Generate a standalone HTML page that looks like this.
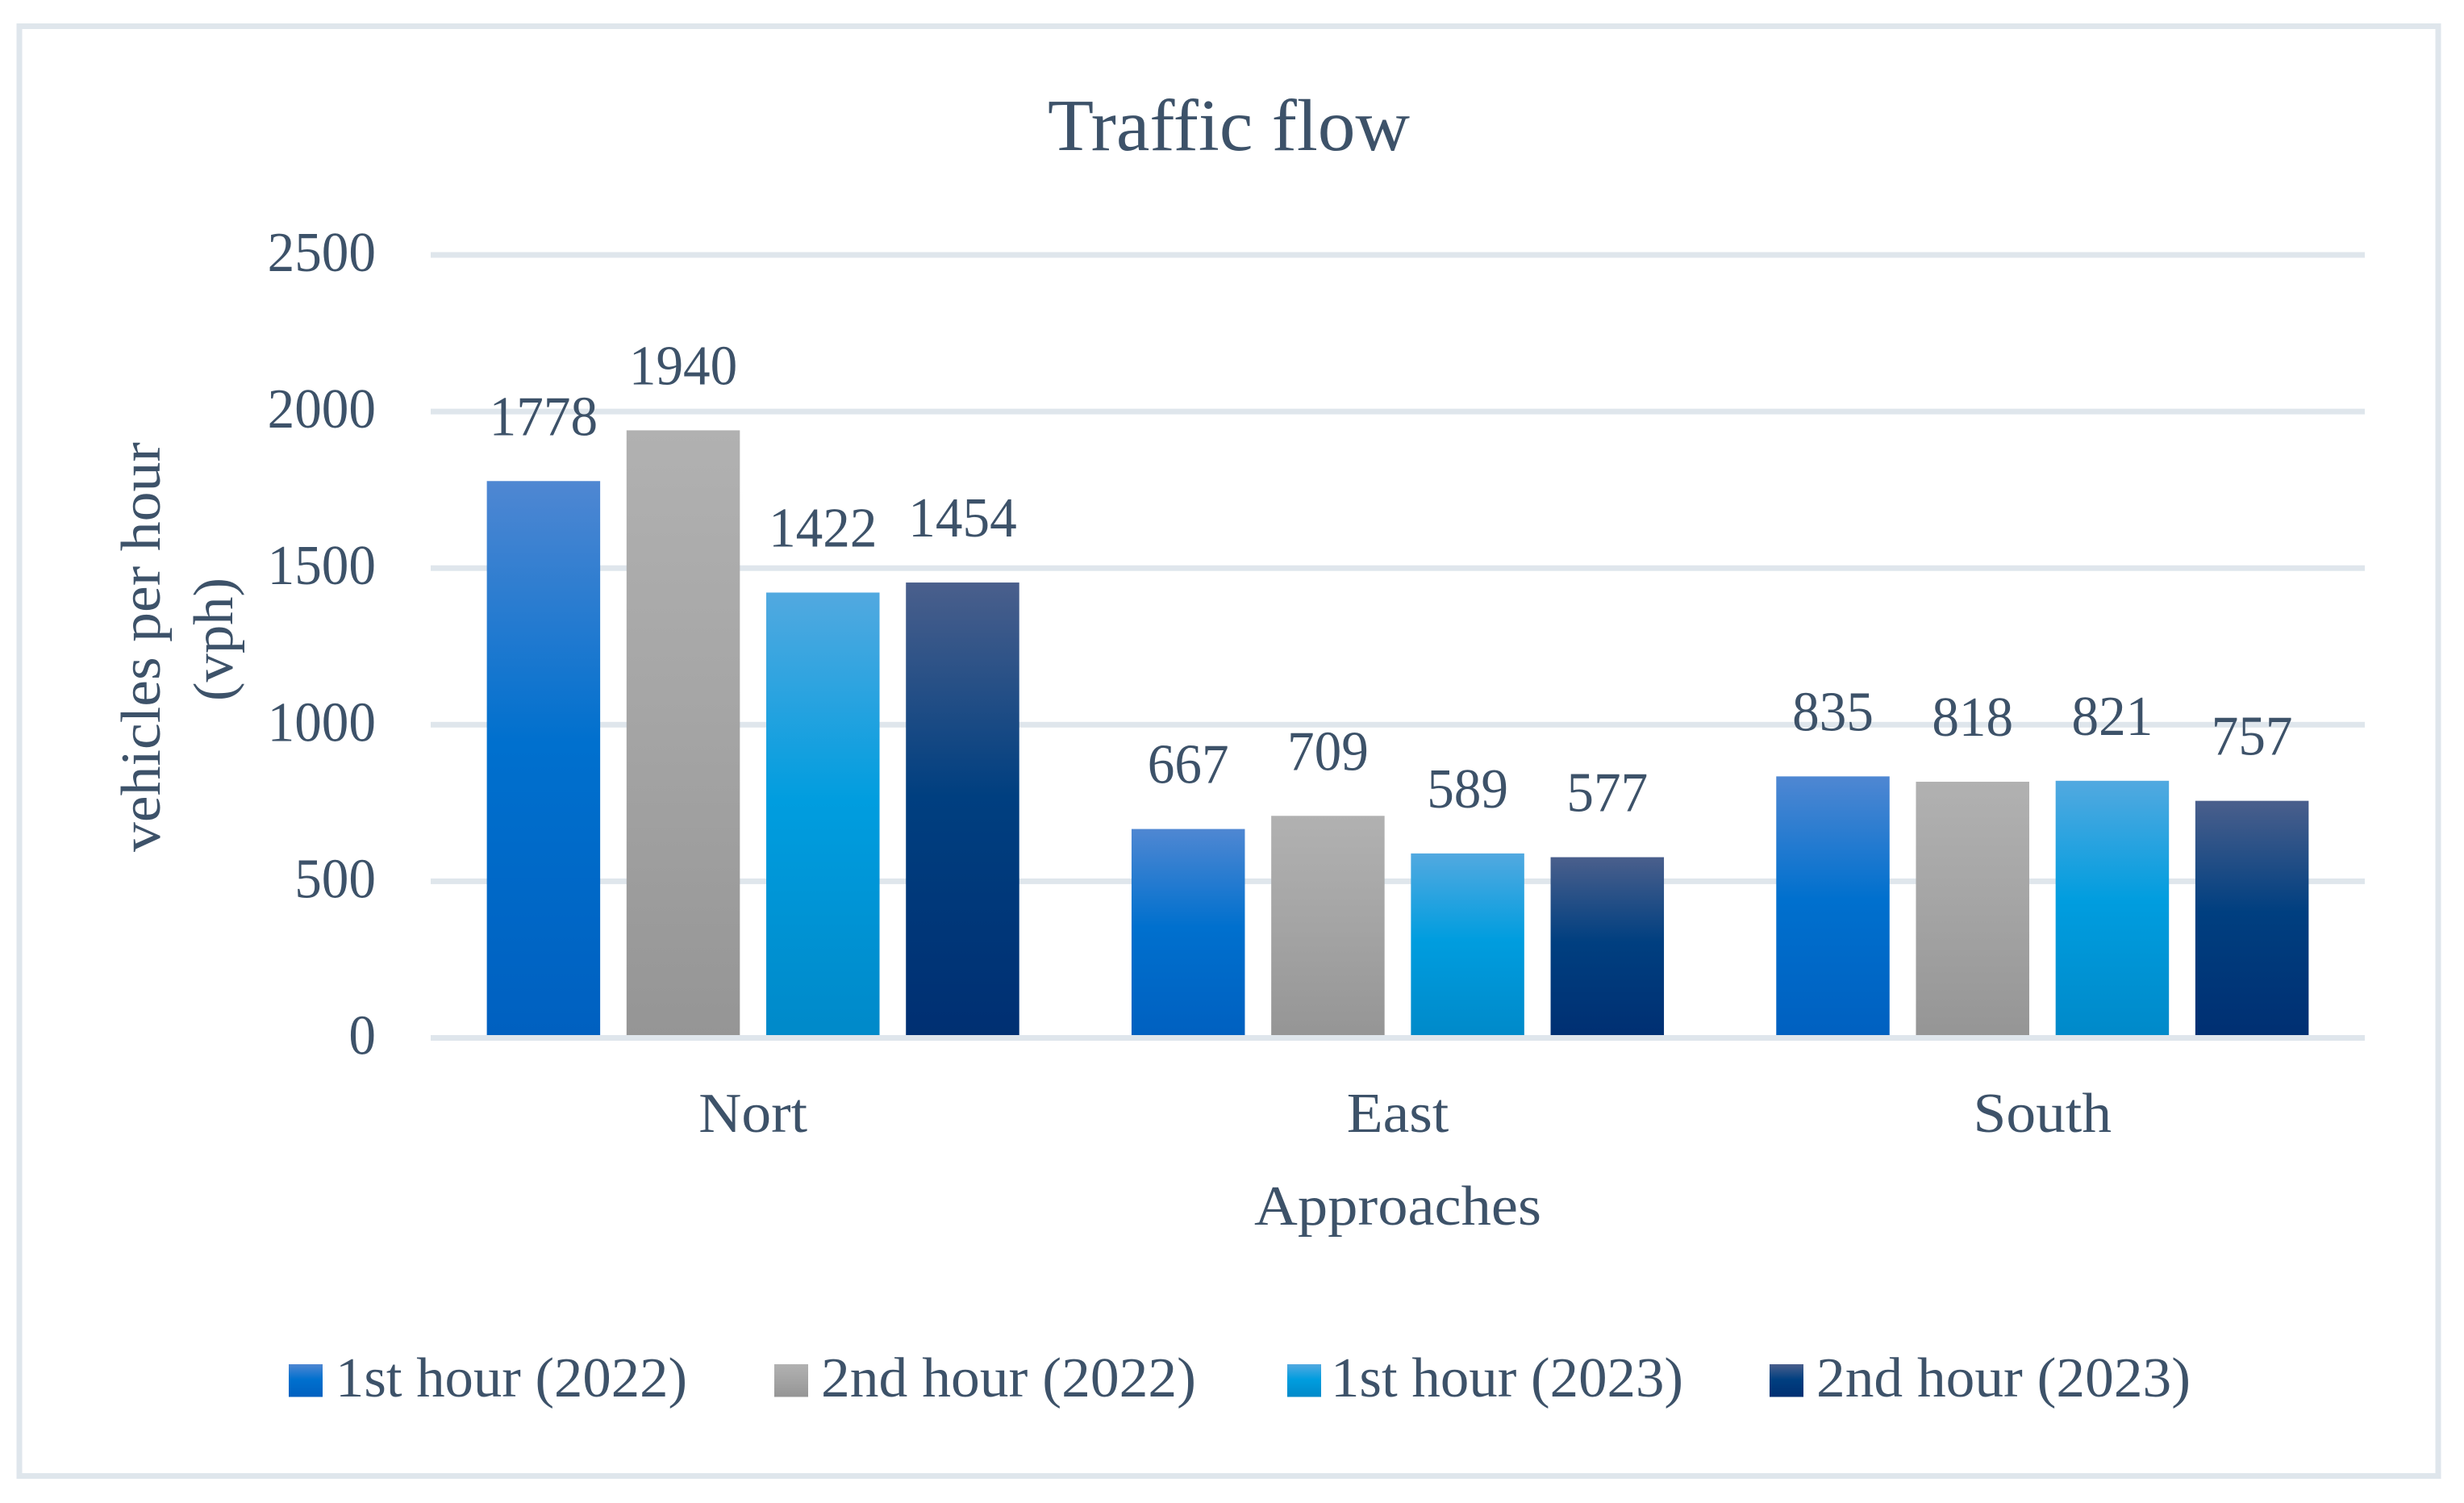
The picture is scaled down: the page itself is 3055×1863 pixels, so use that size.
<!DOCTYPE html>
<html lang="en">
<head>
<meta charset="utf-8">
<title>Traffic flow</title>
<style>
html,body{margin:0;padding:0;background:#fff;}
svg{display:block;}
text{font-family:"Liberation Serif",serif;fill:#3d5269;}
</style>
</head>
<body>
<svg id="chart" xmlns="http://www.w3.org/2000/svg" width="3055" height="1863" viewBox="0 0 3055 1863">
  <defs>
    <linearGradient id="grad-0" x1="0" y1="0" x2="0" y2="1">
      <stop offset="0" stop-color="#4f87d2"/><stop offset="0.47" stop-color="#0070ce"/><stop offset="1" stop-color="#0060c0"/>
    </linearGradient>
    <linearGradient id="grad-1" x1="0" y1="0" x2="0" y2="1">
      <stop offset="0" stop-color="#b1b1b1"/><stop offset="0.47" stop-color="#a5a5a5"/><stop offset="1" stop-color="#959595"/>
    </linearGradient>
    <linearGradient id="grad-2" x1="0" y1="0" x2="0" y2="1">
      <stop offset="0" stop-color="#52a9e0"/><stop offset="0.47" stop-color="#009ddf"/><stop offset="1" stop-color="#0089c9"/>
    </linearGradient>
    <linearGradient id="grad-3" x1="0" y1="0" x2="0" y2="1">
      <stop offset="0" stop-color="#4a5f8c"/><stop offset="0.47" stop-color="#003f80"/><stop offset="1" stop-color="#002f72"/>
    </linearGradient>
  </defs>

  <rect x="0" y="0" width="3055" height="1863" fill="#ffffff"/>
  <rect x="24" y="32.5" width="2999" height="1797" fill="none" stroke="#dfe6ec" stroke-width="7"/>

  <text x="1299" y="186" font-size="91" textLength="449" lengthAdjust="spacingAndGlyphs">Traffic flow</text>

  <g id="grid"></g>
  <g id="y-ticks"></g>
  <g id="bars"></g>
  <g id="values"></g>
  <g id="x-cats"></g>

  <text transform="translate(198,1056) rotate(-90)" font-size="70" textLength="508" lengthAdjust="spacingAndGlyphs">vehicles per hour</text>
  <text transform="translate(288,869) rotate(-90)" font-size="70" textLength="153" lengthAdjust="spacingAndGlyphs">(vph)</text>
  <text x="1555" y="1518" font-size="70" textLength="356" lengthAdjust="spacingAndGlyphs">Approaches</text>

  <g>
    <g>
      <rect x="358" y="1691" width="42" height="40.5" fill="url(#grad-0)"/>
      <text x="416" y="1731" font-size="70" textLength="436" lengthAdjust="spacingAndGlyphs">1st hour (2022)</text>
    </g>
    <g>
      <rect x="960" y="1691" width="42" height="40.5" fill="url(#grad-1)"/>
      <text x="1018" y="1731" font-size="70" textLength="465" lengthAdjust="spacingAndGlyphs">2nd hour (2022)</text>
    </g>
    <g>
      <rect x="1596" y="1691" width="42" height="40.5" fill="url(#grad-2)"/>
      <text x="1650" y="1731" font-size="70" textLength="437" lengthAdjust="spacingAndGlyphs">1st hour (2023)</text>
    </g>
    <g>
      <rect x="2194" y="1691" width="42" height="40.5" fill="url(#grad-3)"/>
      <text x="2252" y="1731" font-size="70" textLength="464" lengthAdjust="spacingAndGlyphs">2nd hour (2023)</text>
    </g>
  </g>
</svg>

<script>
const categories = ["Nort", "East", "South"];
const firstHour2022 = [1778, 667, 835];
const secondHour2022 = [1940, 709, 818];
const firstHour2023 = [1422, 589, 821];
const secondHour2023 = [1454, 577, 757];
const yTickValues = [0, 500, 1000, 1500, 2000, 2500];
const seriesList = [firstHour2022, secondHour2022, firstHour2023, secondHour2023];
const seriesKeys = ["1st-hour-2022", "2nd-hour-2022", "1st-hour-2023", "2nd-hour-2023"];

const NS = "http://www.w3.org/2000/svg";
const plotLeft = 534, plotRight = 2932, yZero = 1286.5, yTop = 316, yMax = 2500;
const barWidth = 140.5, barStep = 173.2;
const digitWidth = 33.6, catStretch = 1.05, labelSize = 70;

function yScale(v) { return yZero - (v / yMax) * (yZero - yTop); }
function groupCenter(i) { return plotLeft + (i + 0.5) * (plotRight - plotLeft) / categories.length; }
function barLeft(i, s) { return groupCenter(i) - (seriesList.length * barStep - (barStep - barWidth)) / 2 + s * barStep; }
function make(tag, parent) { const el = document.createElementNS(NS, tag); parent.appendChild(el); return el; }

const gridG = document.getElementById("grid");
const tickG = document.getElementById("y-ticks");
const barG = document.getElementById("bars");
const valG = document.getElementById("values");
const catG = document.getElementById("x-cats");

function drawGridLine(parent, v) {
  const r = make("rect", parent);
  r.setAttribute("x", plotLeft);
  r.setAttribute("y", yScale(v) - 3.5);
  r.setAttribute("width", plotRight - plotLeft);
  r.setAttribute("height", 7);
  r.setAttribute("fill", "#dfe6ec");
  return r;
}

yTickValues.forEach(function (v) {
  if (v !== 0) {
    const line = drawGridLine(gridG, v);
    
    
  }
  const t = make("text", tickG);
  
  
  t.setAttribute("x", 466);
  t.setAttribute("y", yScale(v) + 20);
  t.setAttribute("font-size", labelSize);
  t.setAttribute("text-anchor", "end");
  t.setAttribute("textLength", String(v).length * digitWidth);
  t.setAttribute("lengthAdjust", "spacingAndGlyphs");
  t.textContent = v;
});

seriesList.forEach(function (vals, s) {
  vals.forEach(function (v, i) {
    const r = make("rect", barG);
    
    
    r.setAttribute("data-series", seriesKeys[s]);
    r.setAttribute("data-category", categories[i]);
    r.setAttribute("x", barLeft(i, s));
    r.setAttribute("y", yScale(v));
    r.setAttribute("width", barWidth);
    r.setAttribute("height", yZero - yScale(v));
    r.setAttribute("fill", "url(#grad-" + s + ")");

    const t = make("text", valG);
    
    
    t.setAttribute("x", barLeft(i, s) + barWidth / 2);
    t.setAttribute("y", yScale(v) - 57);
    t.setAttribute("font-size", labelSize);
    t.setAttribute("text-anchor", "middle");
    t.setAttribute("textLength", String(v).length * digitWidth);
    t.setAttribute("lengthAdjust", "spacingAndGlyphs");
    t.textContent = v;
  });
});

const baseLine = drawGridLine(barG, 0);



categories.forEach(function (c, i) {
  const t = make("text", catG);
  
  
  t.setAttribute("x", groupCenter(i));
  t.setAttribute("y", 1403);
  t.setAttribute("font-size", labelSize);
  t.setAttribute("text-anchor", "middle");
  t.textContent = c;
  t.setAttribute("textLength", t.getComputedTextLength() * catStretch);
  t.setAttribute("lengthAdjust", "spacingAndGlyphs");
});
</script>
</body>
</html>
